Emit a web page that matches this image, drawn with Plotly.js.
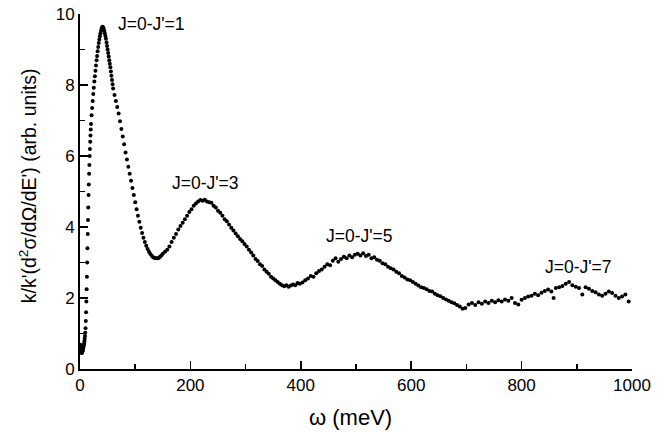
<!DOCTYPE html>
<html>
<head>
<meta charset="utf-8">
<script src="https://cdn.plot.ly/plotly-3.0.1.min.js"></script>
<style>html,body{margin:0;padding:0;background:#fff;}#chart{width:665px;height:432px;}</style>
</head>
<body>
<div id="chart"></div>
<script>
// Energy transfer omega (meV)
const omega = [
 0.5,1,1.5,2,2.5,3,3.5,4,4.5,5,5.5,6,6.5,7,7.5,8,8.5,9,9.5,10,10.5,11,11.5,12,12.5,13,13.5,14,14.5,15,15.5,16,16.5,17,17.5,18,18.5,19,19.5,20,
 21,22,23,24,25,26,27,28,29,30,31,32,33,34,35,36,37,38,39,40,41,42,43,44,45,46,47,48,49,50,51,52,53,54,55,56,57,58,59,60,
 62.5,65,67.5,70,72.5,75,77.5,80,82.5,85,87.5,90,92.5,95,97.5,100,102.5,105,107.5,110,112.5,115,117.5,120,122.5,125,127.5,130,132.5,135,137.5,140,142.5,145,147.5,150,
 154,158,162,166,170,174,178,182,186,190,194,198,202,206,210,214,218,222,226,230,234,238,242,246,250,254,258,262,266,270,274,278,282,286,290,294,298,302,306,310,314,318,322,326,330,334,338,342,346,350,354,358,362,366,370,374,378,382,386,390,394,398,
 403,408,413,418,423,428,433,438,443,448,453,458,463,468,473,478,483,488,493,498,503,508,513,518,523,528,533,538,543,548,553,558,563,568,573,578,583,588,593,598,603,608,613,618,623,628,633,638,643,648,653,658,663,668,673,678,683,688,693,698,
 704,710,716,722,728,734,740,746,752,758,764,770,776,782,788,794,800,806,812,818,824,830,836,842,848,854,858,862,868,874,880,886,892,898,904,910,916,922,928,934,940,946,952,958,964,970,976,982,988,994
];
// k/k'(d2sigma/dOmega/dE') (arb. units)
const signal = [
 0.68,0.62,0.56,0.5,0.47,0.45,0.46,0.48,0.5,0.53,0.56,0.6,0.64,0.68,0.72,0.78,0.85,0.93,1.02,1.15,1.35,1.6,1.9,2.25,2.6,3.0,3.4,3.8,4.2,4.55,4.9,5.2,5.5,5.75,6.0,6.2,6.4,6.58,6.75,6.9,
 7.15,7.35,7.55,7.75,7.92,8.1,8.25,8.4,8.55,8.7,8.82,8.95,9.07,9.18,9.28,9.37,9.45,9.52,9.58,9.62,9.64,9.62,9.58,9.52,9.45,9.38,9.3,9.2,9.1,9.0,8.9,8.8,8.7,8.6,8.5,8.38,8.26,8.14,8.02,7.9,
 7.72,7.55,7.38,7.2,6.98,6.76,6.55,6.33,6.1,5.9,5.7,5.5,5.3,5.1,4.9,4.7,4.5,4.32,4.15,3.98,3.83,3.7,3.58,3.47,3.38,3.3,3.24,3.19,3.15,3.13,3.12,3.12,3.13,3.16,3.2,3.25,
 3.3,3.36,3.45,3.58,3.7,3.8,3.93,4.03,4.12,4.22,4.32,4.42,4.5,4.6,4.66,4.72,4.76,4.74,4.77,4.72,4.7,4.68,4.6,4.55,4.46,4.4,4.32,4.22,4.16,4.07,3.98,3.9,3.82,3.74,3.66,3.6,3.52,3.45,3.36,3.28,3.2,3.1,3.04,2.95,2.9,2.8,2.74,2.68,2.6,2.55,2.5,2.45,2.4,2.36,2.33,2.36,2.32,2.35,2.38,2.36,2.42,2.4,
 2.44,2.5,2.55,2.62,2.6,2.7,2.76,2.8,2.88,2.95,2.92,3.05,3.12,3.02,3.1,3.16,3.12,3.2,3.15,3.22,3.25,3.2,3.26,3.18,3.22,3.12,3.15,3.08,3.05,2.98,2.95,2.88,2.84,2.8,2.74,2.7,2.62,2.58,2.52,2.5,2.45,2.4,2.35,2.3,2.28,2.25,2.2,2.18,2.12,2.08,2.05,2.0,1.96,1.92,1.88,1.85,1.8,1.76,1.7,1.72,
 1.82,1.86,1.8,1.88,1.84,1.9,1.86,1.92,1.88,1.94,1.9,1.96,1.92,2.0,1.86,1.82,1.95,2.0,2.04,2.06,2.12,2.08,2.15,2.2,2.24,2.18,2.0,2.28,2.3,2.34,2.4,2.45,2.36,2.32,2.28,2.1,2.3,2.26,2.2,2.16,2.1,2.06,2.12,2.18,2.14,2.06,2.0,2.04,2.1,1.9
];
// Peak labels
const peakLabels = ["J=0-J'=1", "J=0-J'=3", "J=0-J'=5", "J=0-J'=7"];
const peakLabelX = [130, 228, 506, 903];
const peakLabelY = [9.72, 5.24, 3.75, 2.87];
// Axis titles
const xTitle = 'ω (meV)';
const yTitle = "k/k'(d<sup>2</sup>σ/dΩ/dE') (arb. units)";

const font = {family: 'Liberation Sans, Arial, sans-serif', color: '#000'};

const trace = {
  x: omega, y: signal, type: 'scatter', mode: 'markers',
  marker: {color: '#000', size: 4},
  hoverinfo: 'skip'
};

const annotations = peakLabels.map((t, i) => ({
  x: peakLabelX[i], y: peakLabelY[i], xref: 'x', yref: 'y', text: t,
  showarrow: false, font: Object.assign({}, font, {size: 17.5})
}));
annotations.push({
  x: 490, y: 0, xref: 'x', yref: 'paper', text: xTitle, showarrow: false,
  xanchor: 'center', yanchor: 'middle', yshift: -48,
  font: Object.assign({}, font, {size: 22})
});
annotations.push({
  x: 0, y: 5.15, xref: 'paper', yref: 'y', text: yTitle, showarrow: false,
  textangle: -90, xanchor: 'center', yanchor: 'middle', xshift: -52,
  font: Object.assign({}, font, {size: 19.5})
});

const layout = {
  width: 665, height: 432,
  margin: {l: 80, r: 33, t: 14, b: 63},
  paper_bgcolor: '#fff', plot_bgcolor: '#fff',
  showlegend: false,
  font: Object.assign({}, font, {size: 16}),
  xaxis: {
    range: [0, 1000], dtick: 200, tick0: 0,
    showgrid: false, zeroline: false,
    showline: true, linecolor: '#000', linewidth: 2,
    ticks: 'inside', ticklen: 8, tickwidth: 1.5, tickcolor: '#000',
    minor: {dtick: 100, ticks: 'inside', ticklen: 5, tickwidth: 1.5, tickcolor: '#000', showgrid: false},
    tickfont: Object.assign({}, font, {size: 17})
  },
  yaxis: {
    range: [0, 10], dtick: 2, tick0: 0,
    showgrid: false, zeroline: false,
    showline: true, linecolor: '#000', linewidth: 2,
    ticks: 'inside', ticklen: 8, tickwidth: 1.5, tickcolor: '#000',
    minor: {dtick: 1, ticks: 'inside', ticklen: 5, tickwidth: 1.5, tickcolor: '#000', showgrid: false},
    tickfont: Object.assign({}, font, {size: 17})
  },
  annotations: annotations
};

Plotly.newPlot('chart', [trace], layout, {displayModeBar: false, staticPlot: true});
</script>
</body>
</html>
